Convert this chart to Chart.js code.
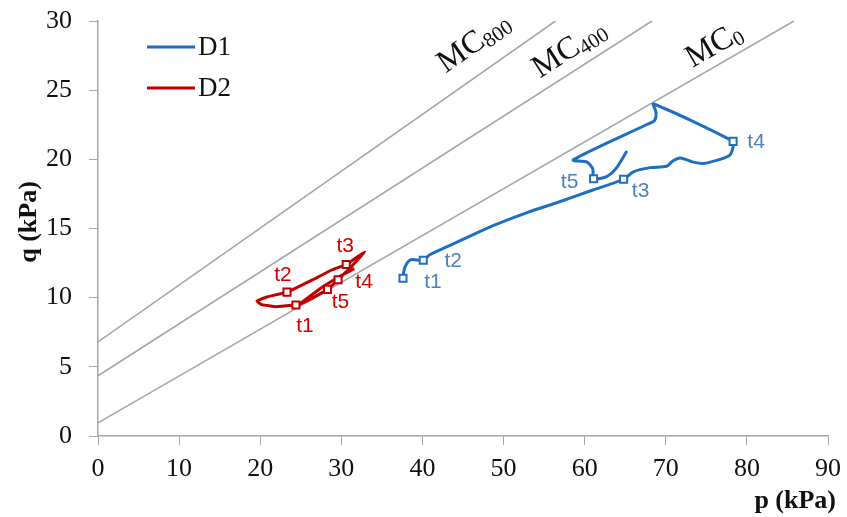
<!DOCTYPE html>
<html>
<head>
<meta charset="utf-8">
<script src="https://cdn.jsdelivr.net/npm/chart.js@4.4.1/dist/chart.umd.min.js"></script>
<style>
  html, body { margin: 0; padding: 0; background: #fff; }
  #wrap { width: 847px; height: 517px; }
</style>
</head>
<body>
<div id="wrap"><canvas id="qp"></canvas></div>
<script>
// MC lines (p, q end points)
const mcNames = ["800", "400", "0"];
const mcP = [[0, 56.4], [0, 68.3], [0, 85.8]];
const mcQ = [[6.8, 30], [4.35, 30], [0.95, 30]];

// D1 stress path
const d1P = [37.6, 37.7, 38.0, 38.6, 40.1, 40.9, 44.6, 48.7, 52.9, 57.0, 61.1, 64.8,
  66.0, 68.1, 70.1, 70.9, 71.8, 73.4, 74.6, 76.7, 77.9, 78.3, 78.3,
  68.5, 68.8, 68.6, 67.6, 58.6, 60.3, 61.0, 61.1, 62.7, 63.95, 65.2];
const d1Q = [11.4, 11.9, 12.4, 12.75, 12.7, 13.1, 14.1, 15.2, 16.15, 16.95, 17.8, 18.56,
  19.1, 19.4, 19.5, 19.9, 20.1, 19.8, 19.7, 20.0, 20.3, 20.9, 21.3,
  24.0, 23.4, 22.8, 22.5, 19.96, 19.8, 19.3, 18.6, 18.75, 19.4, 20.6];

// D2 stress path
const d2P = [24.4, 22.0, 20.2, 19.6, 20.8, 23.3, 26.5, 28.8, 30.6, 32.9, 31.0, 29.6, 28.9, 28.3,
  26.2, 24.9, 27.5, 30.0, 31.6];
const d2Q = [9.47, 9.35, 9.5, 9.75, 10.05, 10.4, 11.3, 12.0, 12.4, 13.3, 12.1, 11.3, 10.9, 10.6,
  9.9, 9.55, 10.7, 11.6, 12.1];

// marked times
const tNames = ["t1", "t2", "t3", "t4", "t5"];
const d1MarkP = [37.6, 40.1, 64.8, 78.3, 61.1];
const d1MarkQ = [11.4, 12.7, 18.56, 21.3, 18.6];
const d2MarkP = [24.4, 23.3, 30.6, 29.6, 28.3];
const d2MarkQ = [9.47, 10.4, 12.4, 11.3, 10.6];

const xTicks = [0, 10, 20, 30, 40, 50, 60, 70, 80, 90];
const yTicks = [0, 5, 10, 15, 20, 25, 30];

const blue = "#1f6fc0", red = "#c00000", grey = "#a6a6a6";
const serif = "'Liberation Serif', 'Times New Roman', serif";

const pts = (xs, ys) => xs.map((x, i) => ({ x: x, y: ys[i] }));

const datasets = [];
datasets.push({ label: "D1 marks", data: pts(d1MarkP, d1MarkQ), showLine: false, pointStyle: "rect",
  pointRadius: 5, borderColor: blue, backgroundColor: "#fff", borderWidth: 2, order: 0 });
datasets.push({ label: "D2 marks", data: pts(d2MarkP, d2MarkQ), showLine: false, pointStyle: "rect",
  pointRadius: 5, borderColor: red, backgroundColor: "#fff", borderWidth: 2, order: 0 });
datasets.push({ label: "D1", data: pts(d1P, d1Q), showLine: true, pointRadius: 0, borderColor: blue,
  borderWidth: 3, tension: 0.25, order: 1 });
datasets.push({ label: "D2", data: pts(d2P, d2Q), showLine: true, pointRadius: 0, borderColor: red,
  borderWidth: 3, tension: 0.1, order: 1 });
mcNames.forEach((n, i) => {
  datasets.push({ label: "MC" + n, data: pts(mcP[i], mcQ[i]), showLine: true, pointRadius: 0,
    borderColor: grey, borderWidth: 1.6, order: 2 });
});

// legend, axis titles, MC labels and t labels
const extras = {
  id: "extras",
  afterDatasetsDraw(chart) {
    const ctx = chart.ctx, xs = chart.scales.x, ys = chart.scales.y;
    ctx.save();

    // legend
    [["D1", blue, 47], ["D2", red, 88]].forEach(([name, col, y]) => {
      ctx.strokeStyle = col; ctx.lineWidth = 3;
      ctx.beginPath(); ctx.moveTo(147, y); ctx.lineTo(195, y); ctx.stroke();
      ctx.fillStyle = "#111"; ctx.font = "27px " + serif;
      ctx.textAlign = "left"; ctx.textBaseline = "middle";
      ctx.fillText(name, 198, y + 1);
    });

    // MC labels along the lines
    const startP = [44.3, 55.3, 73.9];
    const lift = [20, 12, 10];
    mcNames.forEach((n, i) => {
      const x0 = xs.getPixelForValue(mcP[i][0]), y0 = ys.getPixelForValue(mcQ[i][0]);
      const x1 = xs.getPixelForValue(mcP[i][1]), y1 = ys.getPixelForValue(mcQ[i][1]);
      const ang = Math.atan2(y1 - y0, x1 - x0);
      const t = (startP[i] - mcP[i][0]) / (mcP[i][1] - mcP[i][0]);
      const px = x0 + (x1 - x0) * t, py = y0 + (y1 - y0) * t;
      ctx.save();
      ctx.translate(px, py); ctx.rotate(ang);
      ctx.fillStyle = "#111"; ctx.textBaseline = "alphabetic"; ctx.textAlign = "left";
      ctx.font = "32px " + serif;
      ctx.fillText("MC", 0, -lift[i]);
      const w = ctx.measureText("MC").width;
      ctx.font = "21px " + serif;
      ctx.fillText(n, w, -lift[i] + 4);
      ctx.restore();
    });

    // t labels
    ctx.font = "21px 'Liberation Sans', Arial, sans-serif";
    ctx.textAlign = "center"; ctx.textBaseline = "middle";
    const d1Off = [[30, 4], [30, 1], [17, 12], [23, 1], [-24, 4]];
    const d2Off = [[9, 21], [-4, -17], [-1, -18], [26, 3], [13, 13]];
    ctx.fillStyle = "#4f81bd";
    tNames.forEach((n, i) => {
      ctx.fillText(n, xs.getPixelForValue(d1MarkP[i]) + d1Off[i][0], ys.getPixelForValue(d1MarkQ[i]) + d1Off[i][1]);
    });
    ctx.fillStyle = "#d40000";
    tNames.forEach((n, i) => {
      ctx.fillText(n, xs.getPixelForValue(d2MarkP[i]) + d2Off[i][0], ys.getPixelForValue(d2MarkQ[i]) + d2Off[i][1]);
    });

    // axis titles
    ctx.fillStyle = "#111"; ctx.font = "bold 26px " + serif;
    ctx.textAlign = "right"; ctx.textBaseline = "middle";
    ctx.fillText("p (kPa)", 836, 501);
    ctx.translate(29, 222); ctx.rotate(-Math.PI / 2);
    ctx.textAlign = "center";
    ctx.fillText("q (kPa)", 0, 0);
    ctx.restore();
  }
};

new Chart(document.getElementById("qp"), {
  type: "scatter",
  data: { datasets: datasets },
  options: {
    responsive: true,
    maintainAspectRatio: false,
    animation: false,
    layout: { padding: { top: 21, right: 19, left: 0, bottom: 0 } },
    plugins: { legend: { display: false }, tooltip: { enabled: false } },
    scales: {
      x: {
        type: "linear", min: 0, max: 90,
        afterFit: s => { s.height = 81; s.paddingLeft = 0; s.paddingRight = 0; },
        afterBuildTicks: s => { s.ticks = xTicks.map(v => ({ value: v })); },
        ticks: { color: "#111", font: { family: serif, size: 26 }, padding: 9 },
        grid: { drawOnChartArea: false, drawTicks: true, tickLength: 9, color: grey },
        border: { color: grey, width: 1.5 }
      },
      y: {
        type: "linear", min: 0, max: 30,
        afterFit: s => { s.width = 98; s.paddingTop = 0; s.paddingBottom = 0; },
        afterBuildTicks: s => { s.ticks = yTicks.map(v => ({ value: v })); },
        ticks: { color: "#111", font: { family: serif, size: 26 }, padding: 17 },
        grid: { drawOnChartArea: false, drawTicks: true, tickLength: 9, color: grey },
        border: { color: grey, width: 1.5 }
      }
    }
  },
  plugins: [extras]
});
</script>
</body>
</html>
